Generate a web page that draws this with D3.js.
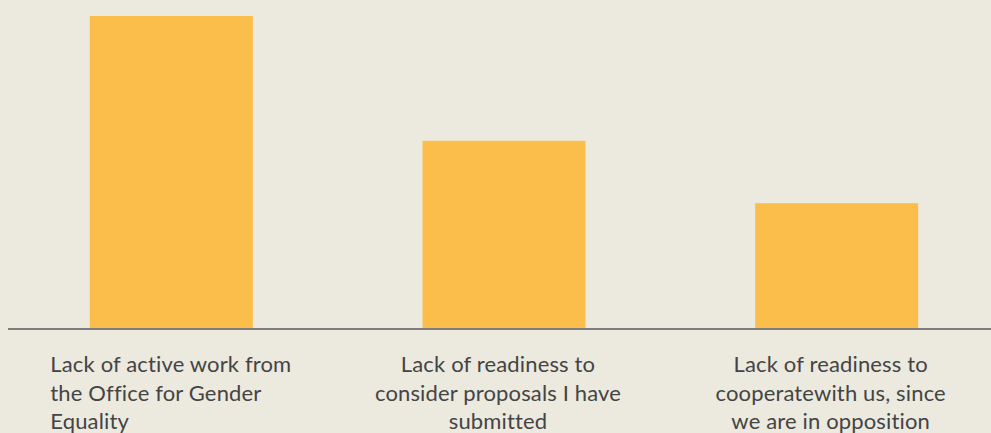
<!DOCTYPE html>
<html>
<head>
<meta charset="utf-8">
<script src="https://cdn.jsdelivr.net/npm/d3@7"></script>
<style>
  html, body { margin: 0; padding: 0; background: #ece9df; }
  svg { display: block; }
</style>
</head>
<body>
<div id="chart"></div>
<script>
var categories = ["active", "proposals", "opposition"];
var values = [50, 30, 20];
var tickLabels = [
    ["Lack of active work from", "the Office for Gender", "Equality"],
    ["Lack of readiness to", "consider proposals I have", "submitted"],
    ["Lack of readiness to", "cooperatewith us, since", "we are in opposition"]
];

function init() {
    var w = 991;
    var h = 433;
    var baseY = 328;

    var xScale = d3.scaleBand()
                .domain(categories)
                .range([5, 1003])
                .paddingInner(0.51)
                .paddingOuter(0.255);

    var yScale = d3.scaleLinear()
                .domain([0, 50])
                .range([baseY, 16]);

    var svg = d3.select("#chart")
                .append("svg")
                .attr("width", w)
                .attr("height", h);

    svg.append("rect")
        .attr("width", w)
        .attr("height", h)
        .attr("fill", "#ece9df");

    svg.selectAll("rect.bar")
        .data(values)
        .enter()
        .append("rect")
        .attr("class", "bar")
        .attr("x", function(d, i) { return xScale(categories[i]); })
        .attr("y", function(d) { return yScale(d); })
        .attr("width", xScale.bandwidth())
        .attr("height", function(d) { return yScale(0) - yScale(d); })
        .attr("fill", "#fbbe4b");

    svg.append("line")
        .attr("x1", 8)
        .attr("x2", w)
        .attr("y1", baseY + 1)
        .attr("y2", baseY + 1)
        .attr("stroke", "#5a5a5a")
        .attr("stroke-width", 1.5);

    var labels = svg.selectAll("text.label")
        .data(tickLabels)
        .enter()
        .append("text")
        .attr("class", "label")
        .attr("font-family", "Lato, sans-serif")
        .attr("font-size", 22)
        .attr("letter-spacing", 0.15)
        .style("font-variant-ligatures", "none")
        .attr("fill", "#444444")
        .attr("text-anchor", function(d, i) { return i === 0 ? "start" : "middle"; })
        .attr("transform", function(d, i) {
            var c = xScale(categories[i]) + xScale.bandwidth() / 2;
            var x = i === 0 ? c - 121 : c - 6;
            return "translate(" + x + ",372)";
        });

    labels.selectAll("tspan")
        .data(function(d) { return d; })
        .enter()
        .append("tspan")
        .attr("x", 0)
        .attr("dy", function(d, j) { return j === 0 ? 0 : 28.5; })
        .text(function(d) { return d; });
}

window.onload = init;
</script>
</body>
</html>
